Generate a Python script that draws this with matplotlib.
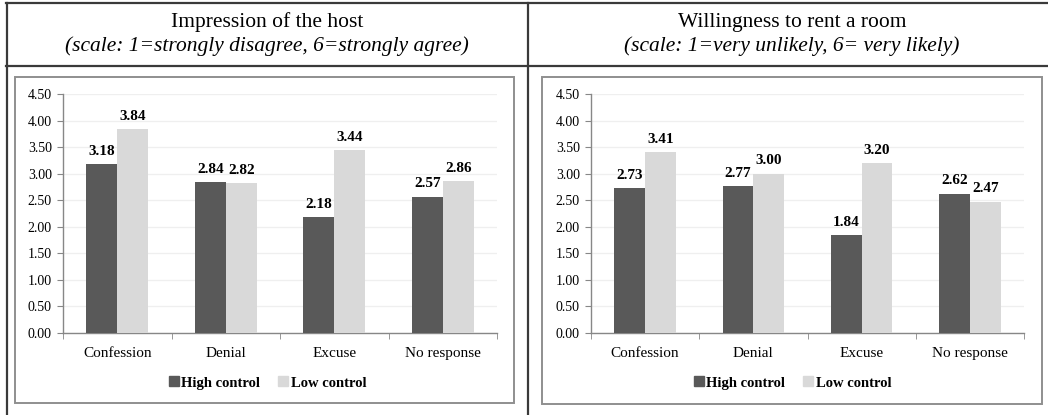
import matplotlib
matplotlib.use("Agg")
import matplotlib.pyplot as plt
import numpy as np
from matplotlib.lines import Line2D
from matplotlib.patches import Rectangle

plt.rcParams['font.family'] = ['Liberation Serif', 'DejaVu Serif']

categories = ['Confession', 'Denial', 'Excuse', 'No response']
series_names = ['High control', 'Low control']

impression_high = [3.18, 2.84, 2.18, 2.57]
impression_low = [3.84, 2.82, 3.44, 2.86]
renting_high = [2.73, 2.77, 1.84, 2.62]
renting_low = [3.41, 3.00, 3.20, 2.47]

titles = ['Impression of the host', 'Willingness to rent a room']
subtitles = ['(scale: 1=strongly disagree, 6=strongly agree)',
             '(scale: 1=very unlikely, 6= very likely)']

dark = '#595959'
light = '#d9d9d9'
axis_grey = '#878787'

W, H = 1048, 415
fig = plt.figure(figsize=(W / 100, H / 100), dpi=100)


def fx(px):
    return px / W


def fy(py):
    return 1 - py / H


# table lines
tl = dict(color='#3a3a3a', lw=1.6, transform=fig.transFigure)
fig.add_artist(Line2D([fx(6), 1], [fy(3.5), fy(3.5)], **tl))
fig.add_artist(Line2D([fx(6), 1], [fy(66), fy(66)], **tl))
fig.add_artist(Line2D([fx(7), fx(7)], [0, fy(3.5)], **tl))
fig.add_artist(Line2D([fx(528), fx(528)], [0, fy(3.5)], **tl))

# chart boxes
boxes = [(15, 77, 514, 403), (542, 77, 1042, 404)]
for x0, y0, x1, y1 in boxes:
    fig.add_artist(Rectangle((fx(x0), fy(y1)), fx(x1 - x0), (y1 - y0) / H,
                             transform=fig.transFigure, fill=False,
                             edgecolor='#8f8f8f', lw=1.4))

axes_px = [(63, 497), (591, 1024)]
data = [(impression_high, impression_low), (renting_high, renting_low)]
centers = [267, 792]

x = np.arange(len(categories))
bw = 0.285

for i in range(2):
    ax0, ax1 = axes_px[i]
    ax = fig.add_axes([fx(ax0), fy(333), fx(ax1 - ax0), (333 - 94) / H])
    high, low = data[i]
    b1 = ax.bar(x - bw / 2, high, bw, color=dark, label=series_names[0], zorder=3)
    b2 = ax.bar(x + bw / 2, low, bw, color=light, label=series_names[1], zorder=3)
    for bars in (b1, b2):
        for r in bars:
            ax.text(r.get_x() + r.get_width() / 2, r.get_height() + 0.12,
                    f'{r.get_height():.2f}', ha='center', va='bottom',
                    fontsize=11, fontweight='bold')
    ax.set_xlim(-0.5, 3.5)
    ax.set_ylim(0, 4.5)
    ax.set_yticks(np.arange(0, 4.51, 0.5))
    ax.set_yticklabels([f'{v:.2f}' for v in np.arange(0, 4.51, 0.5)], fontsize=10)
    ax.set_xticks(x)
    ax.set_xticklabels(categories, fontsize=11)
    ax.tick_params(axis='x', length=0, pad=10)
    ax.set_xticks(np.arange(-0.5, 4, 1), minor=True)
    ax.tick_params(axis='x', which='minor', length=4, color=axis_grey, direction='out')
    ax.tick_params(axis='y', length=4, color=axis_grey, pad=4)
    ax.grid(axis='y', color='#efefef', lw=0.9, zorder=0)
    for s in ['top', 'right']:
        ax.spines[s].set_visible(False)
    for s in ['left', 'bottom']:
        ax.spines[s].set_color(axis_grey)
        ax.spines[s].set_linewidth(1.0)
    ax.set_facecolor('none')

    fig.text(fx(centers[i]), fy(22), titles[i], ha='center', va='center', fontsize=15.5)
    fig.text(fx(centers[i]), fy(46), subtitles[i], ha='center', va='center',
             fontsize=15.5, style='italic')

    handles = [Line2D([], [], marker='s', ls='none', color=dark, markersize=7),
               Line2D([], [], marker='s', ls='none', color=light, markersize=7)]
    fig.legend(handles, series_names, loc='center', ncol=2,
               bbox_to_anchor=(fx(centers[i]), fy(383)), frameon=False,
               prop={'weight': 'bold', 'size': 10.5}, handletextpad=0.1,
               columnspacing=1.2, handlelength=0.8)

fig.savefig('out.png', dpi=100)
